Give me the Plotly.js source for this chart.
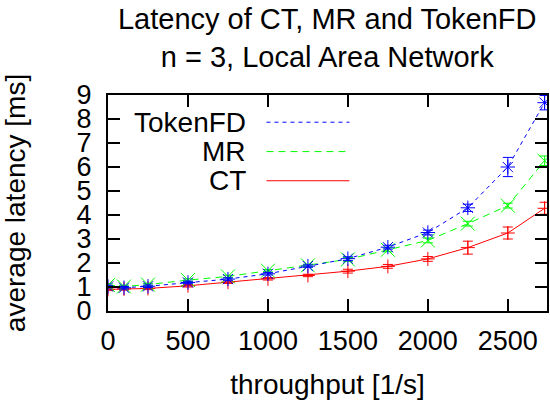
<!DOCTYPE html>
<html>
<head>
<meta charset="utf-8">
<script src="https://cdn.plot.ly/plotly-3.0.1.min.js"></script>
<style>html,body{margin:0;padding:0;background:#fff;}#chart{width:550px;height:400px;}</style>
</head>
<body>
<div id="chart"></div>
<script>
// throughput [1/s]
const throughput = [0, 100, 250, 500, 750, 1000, 1250, 1500, 1750, 2000, 2250, 2500, 2730];
// average latency [ms]
const tokenFD = [1.02, 0.97, 1.03, 1.19, 1.33, 1.55, 1.87, 2.18, 2.66, 3.27, 4.30, 6.00, 8.68];
const mr      = [1.08, 1.02, 1.10, 1.29, 1.44, 1.68, 1.90, 2.15, 2.55, 2.94, 3.64, 4.39, 6.26];
const ct      = [0.90, 0.92, 0.94, 1.05, 1.20, 1.34, 1.48, 1.66, 1.86, 2.17, 2.64, 3.25, 4.28];
// error bars
const tokenFDErr = [0.05, 0.05, 0.05, 0.05, 0.05, 0.05, 0.05, 0.08, 0.08, 0.10, 0.15, 0.40, 0.30];
const mrErr      = [0.05, 0.05, 0.05, 0.05, 0.05, 0.05, 0.05, 0.08, 0.08, 0.10, 0.10, 0.10, 0.20];
const ctErr      = [0.05, 0.05, 0.05, 0.05, 0.05, 0.05, 0.05, 0.08, 0.08, 0.10, 0.27, 0.25, 0.25];

const seriesNames = ['TokenFD', 'MR', 'CT'];
const xTicks = [0, 500, 1000, 1500, 2000, 2500];
const yTicks = [0, 1, 2, 3, 4, 5, 6, 7, 8, 9];

const FONT = 'Liberation Sans, Arial, Helvetica, sans-serif';
const FS = 28;
const TFS = 27;

function trace(y, err, color, dash, symbol, size) {
  return {
    x: throughput, y: y, type: 'scatter', mode: 'lines+markers',
    line: {color: color, width: 1, dash: dash},
    marker: {symbol: symbol, size: size, color: color, line: {color: color, width: 1}},
    error_y: {type: 'data', array: err, visible: true, color: color, thickness: 1, width: 5},
    showlegend: false, hoverinfo: 'skip'
  };
}

const data = [
  trace(ct, ctErr, '#ff0000', 'solid', 'cross-thin-open', 10),
  trace(mr, mrErr, '#00ff00', '7px,5px', 'x-thin-open', 14),
  trace(tokenFD, tokenFDErr, '#0000ff', '4px,4px', 'asterisk-open', 12)
];

// custom gnuplot-style key: text right-aligned, line sample on the right
const keyColors = ['#0000ff', '#00ff00', '#ff0000'];
const keyDash = ['4px,4px', '7px,5px', 'solid'];
const keyY = [0.874, 0.738, 0.603];
const annotations = seriesNames.map((n, i) => ({
  text: n, xref: 'paper', yref: 'paper', x: 0.318, y: keyY[i],
  xanchor: 'right', yanchor: 'middle', showarrow: false,
  font: {family: FONT, size: FS, color: '#000'}
}));
const shapes = seriesNames.map((n, i) => ({
  type: 'line', xref: 'paper', yref: 'paper', x0: 0.361, x1: 0.55, y0: keyY[i], y1: keyY[i],
  line: {color: keyColors[i], width: 1, dash: keyDash[i]}
}));

const layout = {
  width: 550, height: 400,
  margin: {l: 108, r: 3, t: 95, b: 89},
  paper_bgcolor: '#fff', plot_bgcolor: '#fff',
  font: {family: FONT, size: FS, color: '#000'},
  title: {text: 'Latency of CT, MR and TokenFD<br>n = 3, Local Area Network',
          x: 0.595, xanchor: 'center', y: 0.928, yanchor: 'top',
          font: {family: FONT, size: 29, color: '#000'}},
  xaxis: {
    range: [0, 2745], tickvals: xTicks, ticktext: xTicks.map(String),
    ticks: 'inside', ticklen: 12, tickwidth: 2, tickcolor: '#000',
    showline: true, linewidth: 2, linecolor: '#000', mirror: 'allticks',
    showgrid: false, zeroline: false, ticklabelstandoff: 5,
    tickfont: {family: FONT, size: TFS},
    title: {text: 'throughput [1/s]', font: {family: FONT, size: FS}, standoff: 22}
  },
  yaxis: {
    range: [0, 9], tickvals: yTicks, ticktext: yTicks.map(String),
    ticks: 'inside', ticklen: 12, tickwidth: 2, tickcolor: '#000',
    showline: true, linewidth: 2, linecolor: '#000', mirror: 'allticks',
    showgrid: false, zeroline: false, ticklabelstandoff: 9,
    tickfont: {family: FONT, size: TFS},
    title: {text: 'average latency [ms]', font: {family: FONT, size: FS}, standoff: 44}
  },
  annotations: annotations,
  shapes: shapes
};

Plotly.newPlot('chart', data, layout, {staticPlot: true, displayModeBar: false});
</script>
</body>
</html>
